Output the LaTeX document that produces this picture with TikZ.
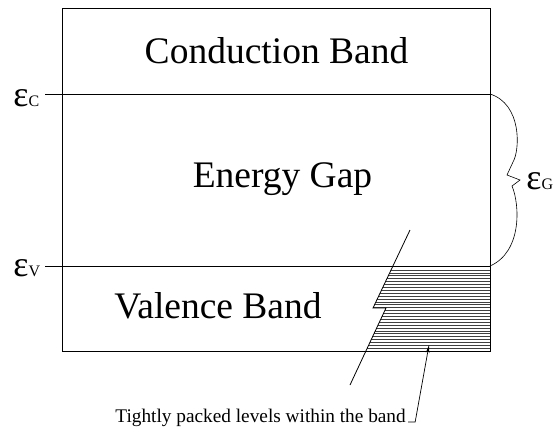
\documentclass[tikz,border=0pt]{standalone}
\usepackage{fontspec}
\setmainfont{Liberation Serif}
\usetikzlibrary{arrows.meta}
\tikzset{
  band/.style={inner sep=0pt,anchor=base,font=\fontsize{37.5}{40}\selectfont},
  level/.style={inner sep=0pt,anchor=base west},
  hatch/.style={line width=0.5pt,black!75},
}
\newcommand{\eps}[1]{{\fontsize{36}{38}\selectfont ε}{\fontsize{16}{18}\selectfont #1}}
\begin{document}
\begin{tikzpicture}[x=1pt,y=-1pt,line width=0.8pt]
\useasboundingbox (0,0) rectangle (556,432);
\coordinate (tl) at (62.5,8.5);
\coordinate (br) at (490,351);
\coordinate (cl) at (45,94);
\coordinate (cr) at (490,94);
\coordinate (vl) at (45,266);
\coordinate (vr) at (490,266);
\node[band] (cb) at (276.5,63) {Conduction Band};
\node[band] (eg) at (282.5,187) {Energy Gap};
\node[band] (vb) at (218,318) {Valence Band};
\node[level] (ec) at (13,106) {\eps{C}};
\node[level] (ev) at (13,276) {\eps{V}};
\node[level] (gap) at (526,189) {\eps{G}};
\node[level,font=\fontsize{19.3}{21}\selectfont] (lbl) at (115,422) {Tightly packed levels within the band};
\draw (tl) rectangle (br);
\draw (cl) -- (cr);
\draw (vl) -- (vr);
\begin{scope}
\clip (410,230) -- (373,308) -- (386,308) -- (350,385) -- (490,385) -- (490,230) -- cycle;
\foreach \i in {1,...,28}
  \draw[hatch] (340,267+\i*2.9) -- (490,267+\i*2.9);
\end{scope}
\draw (410,230) -- (373,308) -- (386,308) -- (350,385);
\draw[line width=0.6pt] (cr) .. controls (522,104) and (520,150) .. (513,162) -- (507,175) -- (520,180) -- (512,186) .. controls (520,205) and (522,252) .. (vr);
\draw[line width=0.7pt,-{Stealth[length=8pt,width=3.5pt]}] (lbl.base east) ++(2,0) -- ++(7,0) -- (429,345);
\end{tikzpicture}
\end{document}
